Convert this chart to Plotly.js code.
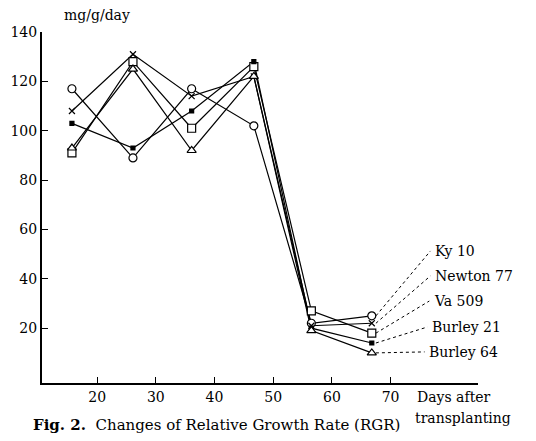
<!DOCTYPE html>
<html>
<head>
<meta charset="utf-8">
<script src="https://cdn.plot.ly/plotly-3.0.1.min.js"></script>
<style>html,body{margin:0;padding:0;background:#fff;}#chart{width:536px;height:441px;}</style>
</head>
<body>
<div id="chart"></div>
<script>
var days = [15.7, 26.1, 36.1, 46.7, 56.5, 66.8];
var ky10 = [117, 89, 117, 102, 22, 25];
var newton77 = [108, 131, 114, 122, 21, 22];
var va509 = [91, 128, 101, 126, 27, 18];
var burley21 = [103, 93, 108, 128, 20, 14];
var burley64 = [93, 125, 92, 122, 19, 10];
var seriesNames = ["Ky 10", "Newton 77", "Va 509", "Burley 21", "Burley 64"];
var xTicks = [20, 30, 40, 50, 60, 70];
var yTicks = [20, 40, 60, 80, 100, 120, 140];

var F = "DejaVu Serif, Liberation Serif, serif";
var allSeries = [ky10, newton77, va509, burley21, burley64];
var symbols = ["circle", "x-thin", "square", "square", "triangle-up"];
var sizes = [8, 6, 8, 4, 8];
var fills = ["#fff", "#000", "#fff", "#000", "#fff"];

var traces = [];
allSeries.forEach(function(s, i) {
  traces.push({x: days, y: s, mode: "lines", line: {color: "#000", width: 1.2},
    hoverinfo: "skip", showlegend: false});
});
allSeries.forEach(function(s, i) {
  traces.push({x: days, y: s, mode: "markers", name: seriesNames[i], showlegend: false,
    marker: {symbol: symbols[i], size: sizes[i], color: fills[i],
      line: {color: "#000", width: 1.2}}});
});

var labelX = [77.2, 77.2, 77.0, 76.7, 76.2];
var labelY = [51.3, 41.2, 31.0, 20.5, 10.4];
var annotations = [];
var shapes = [];
seriesNames.forEach(function(n, i) {
  annotations.push({x: labelX[i], y: labelY[i], xref: "x", yref: "y", text: n,
    showarrow: false, xanchor: "left", yanchor: "middle",
    font: {family: F, size: 14, color: "#000"}});
  var last = allSeries[i][allSeries[i].length - 1];
  shapes.push({type: "line", xref: "x", yref: "y",
    x0: days[days.length - 1] + 0.7, y0: last,
    x1: labelX[i] - 0.4, y1: labelY[i],
    line: {color: "#000", width: 1, dash: "dot"}});
});
annotations.push({xref: "paper", yref: "paper", x: 0.046, y: 1.048, xanchor: "left", yanchor: "middle",
  text: "mg/g/day", showarrow: false, font: {family: F, size: 14, color: "#000"}});
annotations.push({xref: "paper", yref: "paper", x: 0.856, y: -0.040, xanchor: "left", yanchor: "middle",
  text: "Days after", showarrow: false, font: {family: F, size: 14, color: "#000"}});
annotations.push({xref: "paper", yref: "paper", x: 0.851, y: -0.100, xanchor: "left", yanchor: "middle",
  text: "transplanting", showarrow: false, font: {family: F, size: 14, color: "#000"}});
annotations.push({xref: "paper", yref: "paper", x: -0.025, y: -0.12, xanchor: "left", yanchor: "middle",
  text: "<b>Fig. 2.</b>  Changes of Relative Growth Rate (RGR)", showarrow: false,
  font: {family: F, size: 15, color: "#000"}});

var layout = {
  width: 536, height: 441,
  margin: {l: 42, r: 58, t: 32, b: 58},
  paper_bgcolor: "#fff", plot_bgcolor: "#fff",
  showlegend: false,
  font: {family: F, size: 14, color: "#000"},
  xaxis: {range: [10.6, 84.9], tickvals: xTicks, ticktext: xTicks.map(String),
    ticks: "inside", ticklen: 6, tickwidth: 1.2, tickcolor: "#000",
    showline: true, linewidth: 2, linecolor: "#000", showgrid: false, zeroline: false,
    tickfont: {family: F, size: 14, color: "#000"}},
  yaxis: {range: [-2.2, 140], tickvals: yTicks, ticktext: yTicks.map(String),
    ticks: "inside", ticklen: 6, tickwidth: 1.2, tickcolor: "#000",
    showline: true, linewidth: 2, linecolor: "#000", showgrid: false, zeroline: false,
    tickfont: {family: F, size: 14, color: "#000"}},
  annotations: annotations,
  shapes: shapes
};
Plotly.newPlot("chart", traces, layout, {displayModeBar: false, staticPlot: true});
</script>
</body>
</html>
